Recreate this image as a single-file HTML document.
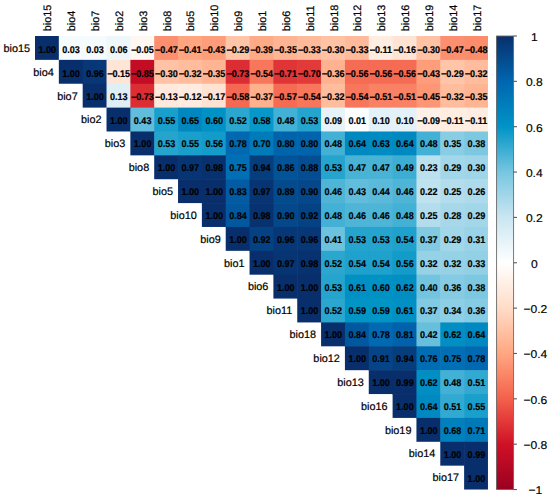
<!DOCTYPE html><html><head><meta charset="utf-8"><style>html,body{margin:0;padding:0;background:#fff;width:550px;height:499px;overflow:hidden}svg{display:block}text{font-family:"Liberation Sans",sans-serif;text-rendering:geometricPrecision}</style></head><body>
<svg width="550" height="499" viewBox="0 0 550 499">
<rect x="35.00" y="36.00" width="24.44" height="23.87" fill="#082f6c"/>
<rect x="58.84" y="36.00" width="24.44" height="24.47" fill="#f6fbfd"/>
<rect x="82.68" y="36.00" width="24.44" height="24.47" fill="#f6fbfd"/>
<rect x="106.52" y="36.00" width="24.44" height="24.47" fill="#eef7fa"/>
<rect x="130.36" y="36.00" width="24.44" height="24.47" fill="#fff7f2"/>
<rect x="154.20" y="36.00" width="24.44" height="24.47" fill="#fb8f6f"/>
<rect x="178.04" y="36.00" width="24.44" height="24.47" fill="#ffa57f"/>
<rect x="201.88" y="36.00" width="24.44" height="24.47" fill="#fe9d7a"/>
<rect x="225.72" y="36.00" width="24.44" height="24.47" fill="#ffc5a9"/>
<rect x="249.56" y="36.00" width="24.44" height="24.47" fill="#ffaa86"/>
<rect x="273.40" y="36.00" width="24.44" height="24.47" fill="#ffb594"/>
<rect x="297.24" y="36.00" width="24.44" height="24.47" fill="#ffba9b"/>
<rect x="321.08" y="36.00" width="24.44" height="24.47" fill="#ffc2a5"/>
<rect x="344.92" y="36.00" width="24.44" height="24.47" fill="#ffba9b"/>
<rect x="368.76" y="36.00" width="24.44" height="24.47" fill="#ffede1"/>
<rect x="392.60" y="36.00" width="24.44" height="24.47" fill="#ffe4d3"/>
<rect x="416.44" y="36.00" width="24.44" height="24.47" fill="#ffc2a5"/>
<rect x="440.28" y="36.00" width="24.44" height="24.47" fill="#fb8f6f"/>
<rect x="464.12" y="36.00" width="23.84" height="24.47" fill="#fb8c6c"/>
<rect x="58.84" y="59.87" width="24.44" height="23.87" fill="#082f6c"/>
<rect x="82.68" y="59.87" width="24.44" height="24.47" fill="#073776"/>
<rect x="106.52" y="59.87" width="24.44" height="24.47" fill="#ffe5d6"/>
<rect x="130.36" y="59.87" width="24.44" height="24.47" fill="#c30d25"/>
<rect x="154.20" y="59.87" width="24.44" height="24.47" fill="#ffc2a5"/>
<rect x="178.04" y="59.87" width="24.44" height="24.47" fill="#ffbd9e"/>
<rect x="201.88" y="59.87" width="24.44" height="24.47" fill="#ffb594"/>
<rect x="225.72" y="59.87" width="24.44" height="24.47" fill="#dd2d34"/>
<rect x="249.56" y="59.87" width="24.44" height="24.47" fill="#f7765c"/>
<rect x="273.40" y="59.87" width="24.44" height="24.47" fill="#e03537"/>
<rect x="297.24" y="59.87" width="24.44" height="24.47" fill="#e23939"/>
<rect x="321.08" y="59.87" width="24.44" height="24.47" fill="#ffb290"/>
<rect x="344.92" y="59.87" width="24.44" height="24.47" fill="#f66b54"/>
<rect x="368.76" y="59.87" width="24.44" height="24.47" fill="#f66b54"/>
<rect x="392.60" y="59.87" width="24.44" height="24.47" fill="#f66b54"/>
<rect x="416.44" y="59.87" width="24.44" height="24.47" fill="#fe9d7a"/>
<rect x="440.28" y="59.87" width="24.44" height="24.47" fill="#ffc5a9"/>
<rect x="464.12" y="59.87" width="23.84" height="24.47" fill="#ffbd9e"/>
<rect x="82.68" y="83.74" width="24.44" height="23.87" fill="#082f6c"/>
<rect x="106.52" y="83.74" width="24.44" height="24.47" fill="#deeff6"/>
<rect x="130.36" y="83.74" width="24.44" height="24.47" fill="#dd2d34"/>
<rect x="154.20" y="83.74" width="24.44" height="24.47" fill="#ffe9dc"/>
<rect x="178.04" y="83.74" width="24.44" height="24.47" fill="#ffebdf"/>
<rect x="201.88" y="83.74" width="24.44" height="24.47" fill="#ffe2d1"/>
<rect x="225.72" y="83.74" width="24.44" height="24.47" fill="#f56851"/>
<rect x="249.56" y="83.74" width="24.44" height="24.47" fill="#ffb08d"/>
<rect x="273.40" y="83.74" width="24.44" height="24.47" fill="#f66b54"/>
<rect x="297.24" y="83.74" width="24.44" height="24.47" fill="#f7765c"/>
<rect x="321.08" y="83.74" width="24.44" height="24.47" fill="#ffbd9e"/>
<rect x="344.92" y="83.74" width="24.44" height="24.47" fill="#f7765c"/>
<rect x="368.76" y="83.74" width="24.44" height="24.47" fill="#f98164"/>
<rect x="392.60" y="83.74" width="24.44" height="24.47" fill="#f98164"/>
<rect x="416.44" y="83.74" width="24.44" height="24.47" fill="#fc9674"/>
<rect x="440.28" y="83.74" width="24.44" height="24.47" fill="#ffbd9e"/>
<rect x="464.12" y="83.74" width="23.84" height="24.47" fill="#ffb594"/>
<rect x="106.52" y="107.61" width="24.44" height="23.87" fill="#082f6c"/>
<rect x="130.36" y="107.61" width="24.44" height="24.47" fill="#61bddb"/>
<rect x="154.20" y="107.61" width="24.44" height="24.47" fill="#199fcb"/>
<rect x="178.04" y="107.61" width="24.44" height="24.47" fill="#0087c0"/>
<rect x="201.88" y="107.61" width="24.44" height="24.47" fill="#0092c5"/>
<rect x="225.72" y="107.61" width="24.44" height="24.47" fill="#2ba6cf"/>
<rect x="249.56" y="107.61" width="24.44" height="24.47" fill="#0797c8"/>
<rect x="273.40" y="107.61" width="24.44" height="24.47" fill="#43b0d5"/>
<rect x="297.24" y="107.61" width="24.44" height="24.47" fill="#25a4ce"/>
<rect x="321.08" y="107.61" width="24.44" height="24.47" fill="#e6f3f8"/>
<rect x="344.92" y="107.61" width="24.44" height="24.47" fill="#fbfdfe"/>
<rect x="368.76" y="107.61" width="24.44" height="24.47" fill="#e3f2f8"/>
<rect x="392.60" y="107.61" width="24.44" height="24.47" fill="#e3f2f8"/>
<rect x="416.44" y="107.61" width="24.44" height="24.47" fill="#fff0e7"/>
<rect x="440.28" y="107.61" width="24.44" height="24.47" fill="#ffede1"/>
<rect x="464.12" y="107.61" width="23.84" height="24.47" fill="#ffede1"/>
<rect x="130.36" y="131.48" width="24.44" height="23.87" fill="#082f6c"/>
<rect x="154.20" y="131.48" width="24.44" height="24.47" fill="#25a4ce"/>
<rect x="178.04" y="131.48" width="24.44" height="24.47" fill="#199fcb"/>
<rect x="201.88" y="131.48" width="24.44" height="24.47" fill="#139cca"/>
<rect x="225.72" y="131.48" width="24.44" height="24.47" fill="#0069b1"/>
<rect x="249.56" y="131.48" width="24.44" height="24.47" fill="#007bba"/>
<rect x="273.40" y="131.48" width="24.44" height="24.47" fill="#0064ad"/>
<rect x="297.24" y="131.48" width="24.44" height="24.47" fill="#0064ad"/>
<rect x="321.08" y="131.48" width="24.44" height="24.47" fill="#43b0d5"/>
<rect x="344.92" y="131.48" width="24.44" height="24.47" fill="#0089c1"/>
<rect x="368.76" y="131.48" width="24.44" height="24.47" fill="#008bc2"/>
<rect x="392.60" y="131.48" width="24.44" height="24.47" fill="#0089c1"/>
<rect x="416.44" y="131.48" width="24.44" height="24.47" fill="#43b0d5"/>
<rect x="440.28" y="131.48" width="24.44" height="24.47" fill="#89cde4"/>
<rect x="464.12" y="131.48" width="23.84" height="24.47" fill="#7cc8e1"/>
<rect x="154.20" y="155.35" width="24.44" height="23.87" fill="#082f6c"/>
<rect x="178.04" y="155.35" width="24.44" height="24.47" fill="#073573"/>
<rect x="201.88" y="155.35" width="24.44" height="24.47" fill="#08326f"/>
<rect x="225.72" y="155.35" width="24.44" height="24.47" fill="#006fb5"/>
<rect x="249.56" y="155.35" width="24.44" height="24.47" fill="#063d7d"/>
<rect x="273.40" y="155.35" width="24.44" height="24.47" fill="#035398"/>
<rect x="297.24" y="155.35" width="24.44" height="24.47" fill="#044d92"/>
<rect x="321.08" y="155.35" width="24.44" height="24.47" fill="#25a4ce"/>
<rect x="344.92" y="155.35" width="24.44" height="24.47" fill="#49b3d6"/>
<rect x="368.76" y="155.35" width="24.44" height="24.47" fill="#49b3d6"/>
<rect x="392.60" y="155.35" width="24.44" height="24.47" fill="#3daed3"/>
<rect x="416.44" y="155.35" width="24.44" height="24.47" fill="#bbe0ee"/>
<rect x="440.28" y="155.35" width="24.44" height="24.47" fill="#a2d7e9"/>
<rect x="464.12" y="155.35" width="23.84" height="24.47" fill="#9ed5e8"/>
<rect x="178.04" y="179.22" width="24.44" height="23.87" fill="#082f6c"/>
<rect x="201.88" y="179.22" width="24.44" height="24.47" fill="#082f6c"/>
<rect x="225.72" y="179.22" width="24.44" height="24.47" fill="#025ba3"/>
<rect x="249.56" y="179.22" width="24.44" height="24.47" fill="#073573"/>
<rect x="273.40" y="179.22" width="24.44" height="24.47" fill="#044b8e"/>
<rect x="297.24" y="179.22" width="24.44" height="24.47" fill="#04488b"/>
<rect x="321.08" y="179.22" width="24.44" height="24.47" fill="#4fb5d7"/>
<rect x="344.92" y="179.22" width="24.44" height="24.47" fill="#61bddb"/>
<rect x="368.76" y="179.22" width="24.44" height="24.47" fill="#5bbada"/>
<rect x="392.60" y="179.22" width="24.44" height="24.47" fill="#4fb5d7"/>
<rect x="416.44" y="179.22" width="24.44" height="24.47" fill="#bfe2ef"/>
<rect x="440.28" y="179.22" width="24.44" height="24.47" fill="#b3ddec"/>
<rect x="464.12" y="179.22" width="23.84" height="24.47" fill="#aedbeb"/>
<rect x="201.88" y="203.09" width="24.44" height="23.87" fill="#082f6c"/>
<rect x="225.72" y="203.09" width="24.44" height="24.47" fill="#02589f"/>
<rect x="249.56" y="203.09" width="24.44" height="24.47" fill="#08326f"/>
<rect x="273.40" y="203.09" width="24.44" height="24.47" fill="#04488b"/>
<rect x="297.24" y="203.09" width="24.44" height="24.47" fill="#054284"/>
<rect x="321.08" y="203.09" width="24.44" height="24.47" fill="#43b0d5"/>
<rect x="344.92" y="203.09" width="24.44" height="24.47" fill="#4fb5d7"/>
<rect x="368.76" y="203.09" width="24.44" height="24.47" fill="#4fb5d7"/>
<rect x="392.60" y="203.09" width="24.44" height="24.47" fill="#43b0d5"/>
<rect x="416.44" y="203.09" width="24.44" height="24.47" fill="#b3ddec"/>
<rect x="440.28" y="203.09" width="24.44" height="24.47" fill="#a6d8ea"/>
<rect x="464.12" y="203.09" width="23.84" height="24.47" fill="#a2d7e9"/>
<rect x="225.72" y="226.96" width="24.44" height="23.87" fill="#082f6c"/>
<rect x="249.56" y="226.96" width="24.44" height="24.47" fill="#054284"/>
<rect x="273.40" y="226.96" width="24.44" height="24.47" fill="#073776"/>
<rect x="297.24" y="226.96" width="24.44" height="24.47" fill="#073776"/>
<rect x="321.08" y="226.96" width="24.44" height="24.47" fill="#6dc2de"/>
<rect x="344.92" y="226.96" width="24.44" height="24.47" fill="#25a4ce"/>
<rect x="368.76" y="226.96" width="24.44" height="24.47" fill="#25a4ce"/>
<rect x="392.60" y="226.96" width="24.44" height="24.47" fill="#1fa1cd"/>
<rect x="416.44" y="226.96" width="24.44" height="24.47" fill="#81cae2"/>
<rect x="440.28" y="226.96" width="24.44" height="24.47" fill="#a2d7e9"/>
<rect x="464.12" y="226.96" width="23.84" height="24.47" fill="#9ad3e7"/>
<rect x="249.56" y="250.83" width="24.44" height="23.87" fill="#082f6c"/>
<rect x="273.40" y="250.83" width="24.44" height="24.47" fill="#073573"/>
<rect x="297.24" y="250.83" width="24.44" height="24.47" fill="#08326f"/>
<rect x="321.08" y="250.83" width="24.44" height="24.47" fill="#2ba6cf"/>
<rect x="344.92" y="250.83" width="24.44" height="24.47" fill="#1fa1cd"/>
<rect x="368.76" y="250.83" width="24.44" height="24.47" fill="#1fa1cd"/>
<rect x="392.60" y="250.83" width="24.44" height="24.47" fill="#139cca"/>
<rect x="416.44" y="250.83" width="24.44" height="24.47" fill="#95d2e6"/>
<rect x="440.28" y="250.83" width="24.44" height="24.47" fill="#95d2e6"/>
<rect x="464.12" y="250.83" width="23.84" height="24.47" fill="#91d0e5"/>
<rect x="273.40" y="274.70" width="24.44" height="23.87" fill="#082f6c"/>
<rect x="297.24" y="274.70" width="24.44" height="24.47" fill="#082f6c"/>
<rect x="321.08" y="274.70" width="24.44" height="24.47" fill="#25a4ce"/>
<rect x="344.92" y="274.70" width="24.44" height="24.47" fill="#0090c4"/>
<rect x="368.76" y="274.70" width="24.44" height="24.47" fill="#0092c5"/>
<rect x="392.60" y="274.70" width="24.44" height="24.47" fill="#008ec3"/>
<rect x="416.44" y="274.70" width="24.44" height="24.47" fill="#73c4df"/>
<rect x="440.28" y="274.70" width="24.44" height="24.47" fill="#85cbe3"/>
<rect x="464.12" y="274.70" width="23.84" height="24.47" fill="#7cc8e1"/>
<rect x="297.24" y="298.57" width="24.44" height="23.87" fill="#082f6c"/>
<rect x="321.08" y="298.57" width="24.44" height="24.47" fill="#2ba6cf"/>
<rect x="344.92" y="298.57" width="24.44" height="24.47" fill="#0195c6"/>
<rect x="368.76" y="298.57" width="24.44" height="24.47" fill="#0195c6"/>
<rect x="392.60" y="298.57" width="24.44" height="24.47" fill="#0090c4"/>
<rect x="416.44" y="298.57" width="24.44" height="24.47" fill="#81cae2"/>
<rect x="440.28" y="298.57" width="24.44" height="24.47" fill="#8dcfe5"/>
<rect x="464.12" y="298.57" width="23.84" height="24.47" fill="#85cbe3"/>
<rect x="321.08" y="322.44" width="24.44" height="23.87" fill="#082f6c"/>
<rect x="344.92" y="322.44" width="24.44" height="24.47" fill="#02589f"/>
<rect x="368.76" y="322.44" width="24.44" height="24.47" fill="#0069b1"/>
<rect x="392.60" y="322.44" width="24.44" height="24.47" fill="#0161aa"/>
<rect x="416.44" y="322.44" width="24.44" height="24.47" fill="#67bfdc"/>
<rect x="440.28" y="322.44" width="24.44" height="24.47" fill="#008ec3"/>
<rect x="464.12" y="322.44" width="23.84" height="24.47" fill="#0089c1"/>
<rect x="344.92" y="346.31" width="24.44" height="23.87" fill="#082f6c"/>
<rect x="368.76" y="346.31" width="24.44" height="24.47" fill="#054587"/>
<rect x="392.60" y="346.31" width="24.44" height="24.47" fill="#063d7d"/>
<rect x="416.44" y="346.31" width="24.44" height="24.47" fill="#006db3"/>
<rect x="440.28" y="346.31" width="24.44" height="24.47" fill="#006fb5"/>
<rect x="464.12" y="346.31" width="23.84" height="24.47" fill="#0069b1"/>
<rect x="368.76" y="370.18" width="24.44" height="23.87" fill="#082f6c"/>
<rect x="392.60" y="370.18" width="24.44" height="24.47" fill="#082f6c"/>
<rect x="416.44" y="370.18" width="24.44" height="24.47" fill="#008ec3"/>
<rect x="440.28" y="370.18" width="24.44" height="24.47" fill="#43b0d5"/>
<rect x="464.12" y="370.18" width="23.84" height="24.47" fill="#31a9d1"/>
<rect x="392.60" y="394.05" width="24.44" height="23.87" fill="#082f6c"/>
<rect x="416.44" y="394.05" width="24.44" height="24.47" fill="#0089c1"/>
<rect x="440.28" y="394.05" width="24.44" height="24.47" fill="#31a9d1"/>
<rect x="464.12" y="394.05" width="23.84" height="24.47" fill="#199fcb"/>
<rect x="416.44" y="417.92" width="24.44" height="23.87" fill="#082f6c"/>
<rect x="440.28" y="417.92" width="24.44" height="24.47" fill="#0080bc"/>
<rect x="464.12" y="417.92" width="23.84" height="24.47" fill="#0079b9"/>
<rect x="440.28" y="441.79" width="24.44" height="23.87" fill="#082f6c"/>
<rect x="464.12" y="441.79" width="23.84" height="24.47" fill="#082f6c"/>
<rect x="464.12" y="465.66" width="23.84" height="23.87" fill="#082f6c"/>
<g font-weight="bold" font-size="39.20" text-anchor="middle" fill="#000" stroke="#000" stroke-width="0.80">
<text transform="translate(47.27 52.79) scale(0.2300 0.2500)">1.00</text>
<text transform="translate(71.11 52.79) scale(0.2300 0.2500)">0.03</text>
<text transform="translate(94.95 52.79) scale(0.2300 0.2500)">0.03</text>
<text transform="translate(118.79 52.79) scale(0.2300 0.2500)">0.06</text>
<text transform="translate(145.08 52.79) scale(0.2300 0.2500)">0.05</text>
<text transform="translate(168.92 52.79) scale(0.2300 0.2500)">0.47</text>
<text transform="translate(192.76 52.79) scale(0.2300 0.2500)">0.41</text>
<text transform="translate(216.60 52.79) scale(0.2300 0.2500)">0.43</text>
<text transform="translate(240.44 52.79) scale(0.2300 0.2500)">0.29</text>
<text transform="translate(264.28 52.79) scale(0.2300 0.2500)">0.39</text>
<text transform="translate(288.12 52.79) scale(0.2300 0.2500)">0.35</text>
<text transform="translate(311.96 52.79) scale(0.2300 0.2500)">0.33</text>
<text transform="translate(335.80 52.79) scale(0.2300 0.2500)">0.30</text>
<text transform="translate(359.64 52.79) scale(0.2300 0.2500)">0.33</text>
<text transform="translate(383.48 52.79) scale(0.2300 0.2500)">0.11</text>
<text transform="translate(407.32 52.79) scale(0.2300 0.2500)">0.16</text>
<text transform="translate(431.16 52.79) scale(0.2300 0.2500)">0.30</text>
<text transform="translate(455.00 52.79) scale(0.2300 0.2500)">0.47</text>
<text transform="translate(478.84 52.79) scale(0.2300 0.2500)">0.48</text>
<text transform="translate(71.11 76.51) scale(0.2300 0.2500)">1.00</text>
<text transform="translate(94.95 76.51) scale(0.2300 0.2500)">0.96</text>
<text transform="translate(121.24 76.51) scale(0.2300 0.2500)">0.15</text>
<text transform="translate(145.08 76.51) scale(0.2300 0.2500)">0.85</text>
<text transform="translate(168.92 76.51) scale(0.2300 0.2500)">0.30</text>
<text transform="translate(192.76 76.51) scale(0.2300 0.2500)">0.32</text>
<text transform="translate(216.60 76.51) scale(0.2300 0.2500)">0.35</text>
<text transform="translate(240.44 76.51) scale(0.2300 0.2500)">0.73</text>
<text transform="translate(264.28 76.51) scale(0.2300 0.2500)">0.54</text>
<text transform="translate(288.12 76.51) scale(0.2300 0.2500)">0.71</text>
<text transform="translate(311.96 76.51) scale(0.2300 0.2500)">0.70</text>
<text transform="translate(335.80 76.51) scale(0.2300 0.2500)">0.36</text>
<text transform="translate(359.64 76.51) scale(0.2300 0.2500)">0.56</text>
<text transform="translate(383.48 76.51) scale(0.2300 0.2500)">0.56</text>
<text transform="translate(407.32 76.51) scale(0.2300 0.2500)">0.56</text>
<text transform="translate(431.16 76.51) scale(0.2300 0.2500)">0.43</text>
<text transform="translate(455.00 76.51) scale(0.2300 0.2500)">0.29</text>
<text transform="translate(478.84 76.51) scale(0.2300 0.2500)">0.32</text>
<text transform="translate(94.95 99.88) scale(0.2300 0.2500)">1.00</text>
<text transform="translate(118.79 99.88) scale(0.2300 0.2500)">0.13</text>
<text transform="translate(145.08 99.88) scale(0.2300 0.2500)">0.73</text>
<text transform="translate(168.92 99.88) scale(0.2300 0.2500)">0.13</text>
<text transform="translate(192.76 99.88) scale(0.2300 0.2500)">0.12</text>
<text transform="translate(216.60 99.88) scale(0.2300 0.2500)">0.17</text>
<text transform="translate(240.44 99.88) scale(0.2300 0.2500)">0.58</text>
<text transform="translate(264.28 99.88) scale(0.2300 0.2500)">0.37</text>
<text transform="translate(288.12 99.88) scale(0.2300 0.2500)">0.57</text>
<text transform="translate(311.96 99.88) scale(0.2300 0.2500)">0.54</text>
<text transform="translate(335.80 99.88) scale(0.2300 0.2500)">0.32</text>
<text transform="translate(359.64 99.88) scale(0.2300 0.2500)">0.54</text>
<text transform="translate(383.48 99.88) scale(0.2300 0.2500)">0.51</text>
<text transform="translate(407.32 99.88) scale(0.2300 0.2500)">0.51</text>
<text transform="translate(431.16 99.88) scale(0.2300 0.2500)">0.45</text>
<text transform="translate(455.00 99.88) scale(0.2300 0.2500)">0.32</text>
<text transform="translate(478.84 99.88) scale(0.2300 0.2500)">0.35</text>
<text transform="translate(118.79 123.50) scale(0.2300 0.2500)">1.00</text>
<text transform="translate(142.63 123.50) scale(0.2300 0.2500)">0.43</text>
<text transform="translate(166.47 123.50) scale(0.2300 0.2500)">0.55</text>
<text transform="translate(190.31 123.50) scale(0.2300 0.2500)">0.65</text>
<text transform="translate(214.15 123.50) scale(0.2300 0.2500)">0.60</text>
<text transform="translate(237.99 123.50) scale(0.2300 0.2500)">0.52</text>
<text transform="translate(261.83 123.50) scale(0.2300 0.2500)">0.58</text>
<text transform="translate(285.67 123.50) scale(0.2300 0.2500)">0.48</text>
<text transform="translate(309.51 123.50) scale(0.2300 0.2500)">0.53</text>
<text transform="translate(333.35 123.50) scale(0.2300 0.2500)">0.09</text>
<text transform="translate(357.19 123.50) scale(0.2300 0.2500)">0.01</text>
<text transform="translate(381.03 123.50) scale(0.2300 0.2500)">0.10</text>
<text transform="translate(404.87 123.50) scale(0.2300 0.2500)">0.10</text>
<text transform="translate(431.16 123.50) scale(0.2300 0.2500)">0.09</text>
<text transform="translate(455.00 123.50) scale(0.2300 0.2500)">0.11</text>
<text transform="translate(478.84 123.50) scale(0.2300 0.2500)">0.11</text>
<text transform="translate(142.63 147.37) scale(0.2300 0.2500)">1.00</text>
<text transform="translate(166.47 147.37) scale(0.2300 0.2500)">0.53</text>
<text transform="translate(190.31 147.37) scale(0.2300 0.2500)">0.55</text>
<text transform="translate(214.15 147.37) scale(0.2300 0.2500)">0.56</text>
<text transform="translate(237.99 147.37) scale(0.2300 0.2500)">0.78</text>
<text transform="translate(261.83 147.37) scale(0.2300 0.2500)">0.70</text>
<text transform="translate(285.67 147.37) scale(0.2300 0.2500)">0.80</text>
<text transform="translate(309.51 147.37) scale(0.2300 0.2500)">0.80</text>
<text transform="translate(333.35 147.37) scale(0.2300 0.2500)">0.48</text>
<text transform="translate(357.19 147.37) scale(0.2300 0.2500)">0.64</text>
<text transform="translate(381.03 147.37) scale(0.2300 0.2500)">0.63</text>
<text transform="translate(404.87 147.37) scale(0.2300 0.2500)">0.64</text>
<text transform="translate(428.71 147.37) scale(0.2300 0.2500)">0.48</text>
<text transform="translate(452.55 147.37) scale(0.2300 0.2500)">0.35</text>
<text transform="translate(476.39 147.37) scale(0.2300 0.2500)">0.38</text>
<text transform="translate(166.47 171.24) scale(0.2300 0.2500)">1.00</text>
<text transform="translate(190.31 171.24) scale(0.2300 0.2500)">0.97</text>
<text transform="translate(214.15 171.24) scale(0.2300 0.2500)">0.98</text>
<text transform="translate(237.99 171.24) scale(0.2300 0.2500)">0.75</text>
<text transform="translate(261.83 171.24) scale(0.2300 0.2500)">0.94</text>
<text transform="translate(285.67 171.24) scale(0.2300 0.2500)">0.86</text>
<text transform="translate(309.51 171.24) scale(0.2300 0.2500)">0.88</text>
<text transform="translate(333.35 171.24) scale(0.2300 0.2500)">0.53</text>
<text transform="translate(357.19 171.24) scale(0.2300 0.2500)">0.47</text>
<text transform="translate(381.03 171.24) scale(0.2300 0.2500)">0.47</text>
<text transform="translate(404.87 171.24) scale(0.2300 0.2500)">0.49</text>
<text transform="translate(428.71 171.24) scale(0.2300 0.2500)">0.23</text>
<text transform="translate(452.55 171.24) scale(0.2300 0.2500)">0.29</text>
<text transform="translate(476.39 171.24) scale(0.2300 0.2500)">0.30</text>
<text transform="translate(190.31 195.11) scale(0.2300 0.2500)">1.00</text>
<text transform="translate(214.15 195.11) scale(0.2300 0.2500)">1.00</text>
<text transform="translate(237.99 195.11) scale(0.2300 0.2500)">0.83</text>
<text transform="translate(261.83 195.11) scale(0.2300 0.2500)">0.97</text>
<text transform="translate(285.67 195.11) scale(0.2300 0.2500)">0.89</text>
<text transform="translate(309.51 195.11) scale(0.2300 0.2500)">0.90</text>
<text transform="translate(333.35 195.11) scale(0.2300 0.2500)">0.46</text>
<text transform="translate(357.19 195.11) scale(0.2300 0.2500)">0.43</text>
<text transform="translate(381.03 195.11) scale(0.2300 0.2500)">0.44</text>
<text transform="translate(404.87 195.11) scale(0.2300 0.2500)">0.46</text>
<text transform="translate(428.71 195.11) scale(0.2300 0.2500)">0.22</text>
<text transform="translate(452.55 195.11) scale(0.2300 0.2500)">0.25</text>
<text transform="translate(476.39 195.11) scale(0.2300 0.2500)">0.26</text>
<text transform="translate(214.15 218.98) scale(0.2300 0.2500)">1.00</text>
<text transform="translate(237.99 218.98) scale(0.2300 0.2500)">0.84</text>
<text transform="translate(261.83 218.98) scale(0.2300 0.2500)">0.98</text>
<text transform="translate(285.67 218.98) scale(0.2300 0.2500)">0.90</text>
<text transform="translate(309.51 218.98) scale(0.2300 0.2500)">0.92</text>
<text transform="translate(333.35 218.98) scale(0.2300 0.2500)">0.48</text>
<text transform="translate(357.19 218.98) scale(0.2300 0.2500)">0.46</text>
<text transform="translate(381.03 218.98) scale(0.2300 0.2500)">0.46</text>
<text transform="translate(404.87 218.98) scale(0.2300 0.2500)">0.48</text>
<text transform="translate(428.71 218.98) scale(0.2300 0.2500)">0.25</text>
<text transform="translate(452.55 218.98) scale(0.2300 0.2500)">0.28</text>
<text transform="translate(476.39 218.98) scale(0.2300 0.2500)">0.29</text>
<text transform="translate(237.99 242.85) scale(0.2300 0.2500)">1.00</text>
<text transform="translate(261.83 242.85) scale(0.2300 0.2500)">0.92</text>
<text transform="translate(285.67 242.85) scale(0.2300 0.2500)">0.96</text>
<text transform="translate(309.51 242.85) scale(0.2300 0.2500)">0.96</text>
<text transform="translate(333.35 242.85) scale(0.2300 0.2500)">0.41</text>
<text transform="translate(357.19 242.85) scale(0.2300 0.2500)">0.53</text>
<text transform="translate(381.03 242.85) scale(0.2300 0.2500)">0.53</text>
<text transform="translate(404.87 242.85) scale(0.2300 0.2500)">0.54</text>
<text transform="translate(428.71 242.85) scale(0.2300 0.2500)">0.37</text>
<text transform="translate(452.55 242.85) scale(0.2300 0.2500)">0.29</text>
<text transform="translate(476.39 242.85) scale(0.2300 0.2500)">0.31</text>
<text transform="translate(261.83 266.72) scale(0.2300 0.2500)">1.00</text>
<text transform="translate(285.67 266.72) scale(0.2300 0.2500)">0.97</text>
<text transform="translate(309.51 266.72) scale(0.2300 0.2500)">0.98</text>
<text transform="translate(333.35 266.72) scale(0.2300 0.2500)">0.52</text>
<text transform="translate(357.19 266.72) scale(0.2300 0.2500)">0.54</text>
<text transform="translate(381.03 266.72) scale(0.2300 0.2500)">0.54</text>
<text transform="translate(404.87 266.72) scale(0.2300 0.2500)">0.56</text>
<text transform="translate(428.71 266.72) scale(0.2300 0.2500)">0.32</text>
<text transform="translate(452.55 266.72) scale(0.2300 0.2500)">0.32</text>
<text transform="translate(476.39 266.72) scale(0.2300 0.2500)">0.33</text>
<text transform="translate(285.67 290.59) scale(0.2300 0.2500)">1.00</text>
<text transform="translate(309.51 290.59) scale(0.2300 0.2500)">1.00</text>
<text transform="translate(333.35 290.59) scale(0.2300 0.2500)">0.53</text>
<text transform="translate(357.19 290.59) scale(0.2300 0.2500)">0.61</text>
<text transform="translate(381.03 290.59) scale(0.2300 0.2500)">0.60</text>
<text transform="translate(404.87 290.59) scale(0.2300 0.2500)">0.62</text>
<text transform="translate(428.71 290.59) scale(0.2300 0.2500)">0.40</text>
<text transform="translate(452.55 290.59) scale(0.2300 0.2500)">0.36</text>
<text transform="translate(476.39 290.59) scale(0.2300 0.2500)">0.38</text>
<text transform="translate(309.51 314.46) scale(0.2300 0.2500)">1.00</text>
<text transform="translate(333.35 314.46) scale(0.2300 0.2500)">0.52</text>
<text transform="translate(357.19 314.46) scale(0.2300 0.2500)">0.59</text>
<text transform="translate(381.03 314.46) scale(0.2300 0.2500)">0.59</text>
<text transform="translate(404.87 314.46) scale(0.2300 0.2500)">0.61</text>
<text transform="translate(428.71 314.46) scale(0.2300 0.2500)">0.37</text>
<text transform="translate(452.55 314.46) scale(0.2300 0.2500)">0.34</text>
<text transform="translate(476.39 314.46) scale(0.2300 0.2500)">0.36</text>
<text transform="translate(333.35 338.33) scale(0.2300 0.2500)">1.00</text>
<text transform="translate(357.19 338.33) scale(0.2300 0.2500)">0.84</text>
<text transform="translate(381.03 338.33) scale(0.2300 0.2500)">0.78</text>
<text transform="translate(404.87 338.33) scale(0.2300 0.2500)">0.81</text>
<text transform="translate(428.71 338.33) scale(0.2300 0.2500)">0.42</text>
<text transform="translate(452.55 338.33) scale(0.2300 0.2500)">0.62</text>
<text transform="translate(476.39 338.33) scale(0.2300 0.2500)">0.64</text>
<text transform="translate(357.19 362.20) scale(0.2300 0.2500)">1.00</text>
<text transform="translate(381.03 362.20) scale(0.2300 0.2500)">0.91</text>
<text transform="translate(404.87 362.20) scale(0.2300 0.2500)">0.94</text>
<text transform="translate(428.71 362.20) scale(0.2300 0.2500)">0.76</text>
<text transform="translate(452.55 362.20) scale(0.2300 0.2500)">0.75</text>
<text transform="translate(476.39 362.20) scale(0.2300 0.2500)">0.78</text>
<text transform="translate(381.03 386.07) scale(0.2300 0.2500)">1.00</text>
<text transform="translate(404.87 386.07) scale(0.2300 0.2500)">0.99</text>
<text transform="translate(428.71 386.07) scale(0.2300 0.2500)">0.62</text>
<text transform="translate(452.55 386.07) scale(0.2300 0.2500)">0.48</text>
<text transform="translate(476.39 386.07) scale(0.2300 0.2500)">0.51</text>
<text transform="translate(404.87 409.94) scale(0.2300 0.2500)">1.00</text>
<text transform="translate(428.71 409.94) scale(0.2300 0.2500)">0.64</text>
<text transform="translate(452.55 409.94) scale(0.2300 0.2500)">0.51</text>
<text transform="translate(476.39 409.94) scale(0.2300 0.2500)">0.55</text>
<text transform="translate(428.71 433.81) scale(0.2300 0.2500)">1.00</text>
<text transform="translate(452.55 433.81) scale(0.2300 0.2500)">0.68</text>
<text transform="translate(476.39 433.81) scale(0.2300 0.2500)">0.71</text>
<text transform="translate(452.55 457.68) scale(0.2300 0.2500)">1.00</text>
<text transform="translate(476.39 457.68) scale(0.2300 0.2500)">0.99</text>
<text transform="translate(476.39 481.55) scale(0.2300 0.2500)">1.00</text>
</g>
<g fill="#000"><rect x="131.48" y="49.49" width="5.20" height="1.30"/><rect x="155.32" y="49.49" width="5.20" height="1.30"/><rect x="179.16" y="49.49" width="5.20" height="1.30"/><rect x="203.00" y="49.49" width="5.20" height="1.30"/><rect x="226.84" y="49.49" width="5.20" height="1.30"/><rect x="250.68" y="49.49" width="5.20" height="1.30"/><rect x="274.52" y="49.49" width="5.20" height="1.30"/><rect x="298.36" y="49.49" width="5.20" height="1.30"/><rect x="322.20" y="49.49" width="5.20" height="1.30"/><rect x="346.04" y="49.49" width="5.20" height="1.30"/><rect x="369.88" y="49.49" width="5.20" height="1.30"/><rect x="393.72" y="49.49" width="5.20" height="1.30"/><rect x="417.56" y="49.49" width="5.20" height="1.30"/><rect x="441.40" y="49.49" width="5.20" height="1.30"/><rect x="465.24" y="49.49" width="5.20" height="1.30"/><rect x="107.64" y="73.21" width="5.20" height="1.30"/><rect x="131.48" y="73.21" width="5.20" height="1.30"/><rect x="155.32" y="73.21" width="5.20" height="1.30"/><rect x="179.16" y="73.21" width="5.20" height="1.30"/><rect x="203.00" y="73.21" width="5.20" height="1.30"/><rect x="226.84" y="73.21" width="5.20" height="1.30"/><rect x="250.68" y="73.21" width="5.20" height="1.30"/><rect x="274.52" y="73.21" width="5.20" height="1.30"/><rect x="298.36" y="73.21" width="5.20" height="1.30"/><rect x="322.20" y="73.21" width="5.20" height="1.30"/><rect x="346.04" y="73.21" width="5.20" height="1.30"/><rect x="369.88" y="73.21" width="5.20" height="1.30"/><rect x="393.72" y="73.21" width="5.20" height="1.30"/><rect x="417.56" y="73.21" width="5.20" height="1.30"/><rect x="441.40" y="73.21" width="5.20" height="1.30"/><rect x="465.24" y="73.21" width="5.20" height="1.30"/><rect x="131.48" y="96.58" width="5.20" height="1.30"/><rect x="155.32" y="96.58" width="5.20" height="1.30"/><rect x="179.16" y="96.58" width="5.20" height="1.30"/><rect x="203.00" y="96.58" width="5.20" height="1.30"/><rect x="226.84" y="96.58" width="5.20" height="1.30"/><rect x="250.68" y="96.58" width="5.20" height="1.30"/><rect x="274.52" y="96.58" width="5.20" height="1.30"/><rect x="298.36" y="96.58" width="5.20" height="1.30"/><rect x="322.20" y="96.58" width="5.20" height="1.30"/><rect x="346.04" y="96.58" width="5.20" height="1.30"/><rect x="369.88" y="96.58" width="5.20" height="1.30"/><rect x="393.72" y="96.58" width="5.20" height="1.30"/><rect x="417.56" y="96.58" width="5.20" height="1.30"/><rect x="441.40" y="96.58" width="5.20" height="1.30"/><rect x="465.24" y="96.58" width="5.20" height="1.30"/><rect x="417.56" y="120.20" width="5.20" height="1.30"/><rect x="441.40" y="120.20" width="5.20" height="1.30"/><rect x="465.24" y="120.20" width="5.20" height="1.30"/></g>
<g font-size="10.85" text-anchor="end" fill="#000" stroke="#000" stroke-width="0.20">
<text x="30.00" y="51.84">bio15</text>
<text x="53.84" y="75.69">bio4</text>
<text x="77.68" y="99.55">bio7</text>
<text x="101.52" y="123.40">bio2</text>
<text x="125.36" y="147.26">bio3</text>
<text x="149.20" y="171.11">bio8</text>
<text x="173.04" y="194.97">bio5</text>
<text x="196.88" y="218.82">bio10</text>
<text x="220.72" y="242.68">bio9</text>
<text x="244.56" y="266.53">bio1</text>
<text x="268.40" y="290.38">bio6</text>
<text x="292.24" y="314.24">bio11</text>
<text x="316.08" y="338.09">bio18</text>
<text x="339.92" y="361.95">bio12</text>
<text x="363.76" y="385.81">bio13</text>
<text x="387.60" y="409.66">bio16</text>
<text x="411.44" y="433.51">bio19</text>
<text x="435.28" y="457.37">bio14</text>
<text x="459.12" y="481.23">bio17</text>
</g>
<g font-size="10.85" text-anchor="start" fill="#000" stroke="#000" stroke-width="0.20">
<text transform="translate(51.42 31.30) rotate(-90)">bio15</text>
<text transform="translate(75.26 31.30) rotate(-90)">bio4</text>
<text transform="translate(99.10 31.30) rotate(-90)">bio7</text>
<text transform="translate(122.94 31.30) rotate(-90)">bio2</text>
<text transform="translate(146.78 31.30) rotate(-90)">bio3</text>
<text transform="translate(170.62 31.30) rotate(-90)">bio8</text>
<text transform="translate(194.46 31.30) rotate(-90)">bio5</text>
<text transform="translate(218.30 31.30) rotate(-90)">bio10</text>
<text transform="translate(242.14 31.30) rotate(-90)">bio9</text>
<text transform="translate(265.98 31.30) rotate(-90)">bio1</text>
<text transform="translate(289.82 31.30) rotate(-90)">bio6</text>
<text transform="translate(313.66 31.30) rotate(-90)">bio11</text>
<text transform="translate(337.50 31.30) rotate(-90)">bio18</text>
<text transform="translate(361.34 31.30) rotate(-90)">bio12</text>
<text transform="translate(385.18 31.30) rotate(-90)">bio13</text>
<text transform="translate(409.02 31.30) rotate(-90)">bio16</text>
<text transform="translate(432.86 31.30) rotate(-90)">bio19</text>
<text transform="translate(456.70 31.30) rotate(-90)">bio14</text>
<text transform="translate(480.54 31.30) rotate(-90)">bio17</text>
</g>
<defs><linearGradient id="cb" x1="0" y1="1" x2="0" y2="0">
<stop offset="0.000" stop-color="#9A0020"/>
<stop offset="0.100" stop-color="#D01127"/>
<stop offset="0.200" stop-color="#F4604B"/>
<stop offset="0.300" stop-color="#FFA781"/>
<stop offset="0.400" stop-color="#FFDCC7"/>
<stop offset="0.500" stop-color="#FFFFFF"/>
<stop offset="0.600" stop-color="#CAE6F1"/>
<stop offset="0.700" stop-color="#77C6E0"/>
<stop offset="0.800" stop-color="#0094C6"/>
<stop offset="0.900" stop-color="#0066B0"/>
<stop offset="1.000" stop-color="#082F6C"/>
</linearGradient></defs>
<rect x="496.20" y="36.00" width="17.40" height="453.53" fill="url(#cb)"/>
<rect x="496.60" y="36.00" width="17.00" height="453.53" fill="none" stroke="#6a6a6a" stroke-width="0.90"/>
<g font-size="11.40" text-anchor="middle" fill="#000" stroke="#000" stroke-width="0.15">
<line x1="513.60" y1="36.00" x2="516.90" y2="36.00" stroke="#555" stroke-width="1.10"/>
<text transform="translate(534.30 40.90) scale(1.060 1)">1</text>
<line x1="513.60" y1="81.35" x2="516.90" y2="81.35" stroke="#555" stroke-width="1.10"/>
<text transform="translate(534.30 86.25) scale(1.060 1)">0.8</text>
<line x1="513.60" y1="126.71" x2="516.90" y2="126.71" stroke="#555" stroke-width="1.10"/>
<text transform="translate(534.30 131.61) scale(1.060 1)">0.6</text>
<line x1="513.60" y1="172.06" x2="516.90" y2="172.06" stroke="#555" stroke-width="1.10"/>
<text transform="translate(534.30 176.96) scale(1.060 1)">0.4</text>
<line x1="513.60" y1="217.41" x2="516.90" y2="217.41" stroke="#555" stroke-width="1.10"/>
<text transform="translate(534.30 222.31) scale(1.060 1)">0.2</text>
<line x1="513.60" y1="262.76" x2="516.90" y2="262.76" stroke="#555" stroke-width="1.10"/>
<text transform="translate(534.30 267.66) scale(1.060 1)">0</text>
<line x1="513.60" y1="308.12" x2="516.90" y2="308.12" stroke="#555" stroke-width="1.10"/>
<text transform="translate(535.40 313.02) scale(1.060 1)">−0.2</text>
<line x1="513.60" y1="353.47" x2="516.90" y2="353.47" stroke="#555" stroke-width="1.10"/>
<text transform="translate(535.40 358.37) scale(1.060 1)">−0.4</text>
<line x1="513.60" y1="398.82" x2="516.90" y2="398.82" stroke="#555" stroke-width="1.10"/>
<text transform="translate(535.40 403.72) scale(1.060 1)">−0.6</text>
<line x1="513.60" y1="444.18" x2="516.90" y2="444.18" stroke="#555" stroke-width="1.10"/>
<text transform="translate(535.40 449.08) scale(1.060 1)">−0.8</text>
<line x1="513.60" y1="489.53" x2="516.90" y2="489.53" stroke="#555" stroke-width="1.10"/>
<text transform="translate(535.40 494.43) scale(1.060 1)">−1</text>
</g>
</svg></body></html>
